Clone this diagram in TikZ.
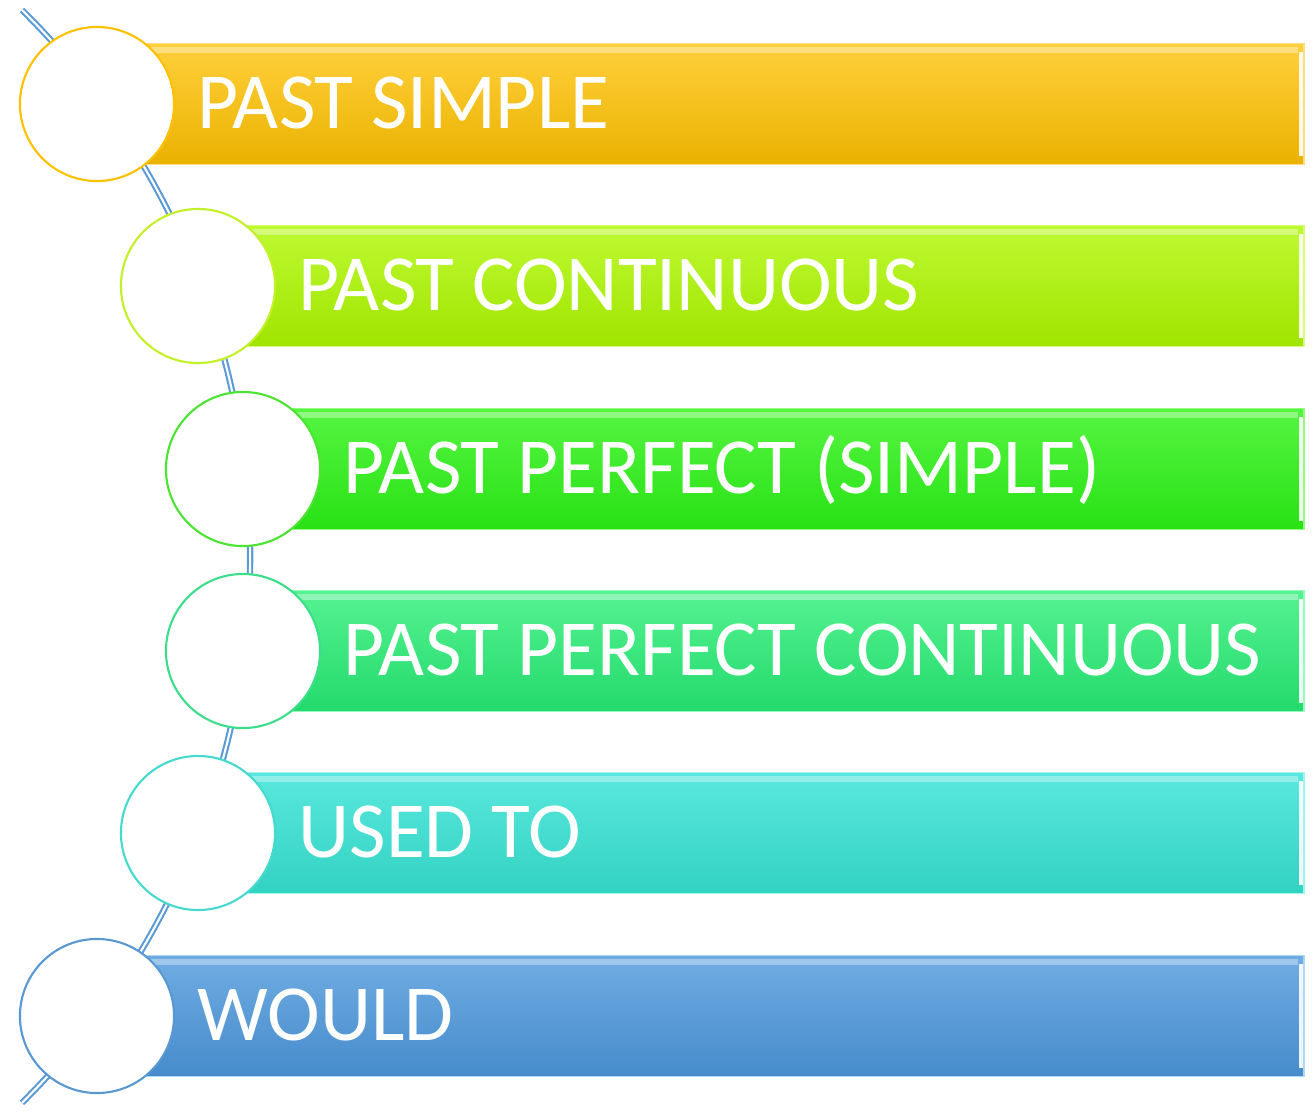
\documentclass[tikz,border=0pt]{standalone}
\usepackage{fontspec}
\setmainfont{Carlito}
\definecolor{lineblue}{RGB}{91,155,213}
% row palettes: outline, top, middle, bottom, rim
\definecolor{aline}{RGB}{255,192,0}\definecolor{atop}{RGB}{255,208,60}\definecolor{amid}{RGB}{255,196,0}\definecolor{abot}{RGB}{234,178,0}\definecolor{arim}{RGB}{255,222,130}
\definecolor{bline}{RGB}{195,240,40}\definecolor{btop}{RGB}{190,250,50}\definecolor{bmid}{RGB}{176,245,10}\definecolor{bbot}{RGB}{160,228,0}\definecolor{brim}{RGB}{215,250,120}
\definecolor{cline}{RGB}{75,228,50}\definecolor{ctop}{RGB}{85,245,65}\definecolor{cmid}{RGB}{55,240,30}\definecolor{cbot}{RGB}{40,225,20}\definecolor{crim}{RGB}{150,250,130}
\definecolor{dline}{RGB}{60,222,140}\definecolor{dtop}{RGB}{85,242,145}\definecolor{dmid}{RGB}{50,235,120}\definecolor{dbot}{RGB}{35,218,108}\definecolor{drim}{RGB}{150,250,190}
\definecolor{eline}{RGB}{70,218,206}\definecolor{etop}{RGB}{90,232,222}\definecolor{emid}{RGB}{72,225,210}\definecolor{ebot}{RGB}{50,210,194}\definecolor{erim}{RGB}{160,245,240}
\definecolor{fline}{RGB}{90,152,210}\definecolor{ftop}{RGB}{112,172,226}\definecolor{fmid}{RGB}{92,156,216}\definecolor{fbot}{RGB}{70,140,204}\definecolor{frim}{RGB}{170,215,245}
\tikzset{
  timeline/.style={draw=lineblue, line width=0.6pt, double=white, double distance=0.6pt},
  barbox/.style={rectangle, minimum height=1.21cm, inner sep=0pt, line width=0.5pt},
  dot/.style={circle, fill=white, line width=0.6pt, minimum size=1.54cm, inner sep=0pt},
  tense/.style={text=white, inner sep=0pt, anchor=base west, font=\fontsize{22.6pt}{27pt}\selectfont}
}
% one row: #1 name, #2 circle x, #3 centre y, #4 palette letter, #5 label
\newcommand\pastrow[5]{%
  \pgfmathsetmacro\rowwidth{(1304-#2-48)/100}%
  \node[barbox, minimum width=\rowwidth cm, draw=#4rim, top color=#4top, middle color=#4mid, bottom color=#4bot] (#1bar) at (#2*0.5+676,#3) {};
  \fill[white, opacity=0.35] (#2+50,#3-57) rectangle (1298,#3-51);
  \draw[white, opacity=0.9, line width=0.9pt] (1301,#3-52) -- (1301,#3+52);
  \node[dot, draw=#4line] (#1dot) at (#2,#3) {};
  \node[tense] (#1txt) at (#2+100,#3+24) {#5};
}
\begin{document}
\begin{tikzpicture}[x=0.01cm,y=-0.01cm]
\useasboundingbox (0,0) rectangle (1315,1112);
% the curved timeline behind the rows
\draw[timeline] (22,10) arc[start angle=45.32, end angle=-45.32, radius=7.68cm];
\pastrow{simple}{97}{104}{a}{PAST SIMPLE}
\pastrow{cont}{198}{286}{b}{PAST CONTINUOUS}
\pastrow{perf}{243}{469}{c}{PAST PERFECT (SIMPLE)}
\pastrow{perfcont}{243}{651}{d}{PAST PERFECT CONTINUOUS}
\pastrow{used}{198}{833}{e}{USED TO}
\pastrow{would}{97}{1016}{f}{WOULD}
\end{tikzpicture}
\end{document}
